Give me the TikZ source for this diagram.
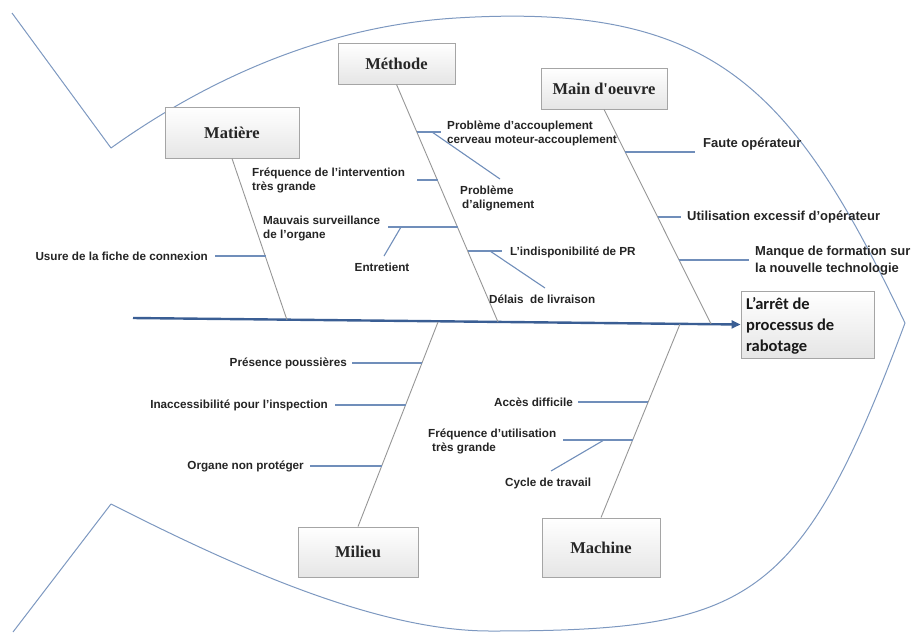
\documentclass[tikz,border=0pt]{standalone}
\usepackage{fontspec}
\setmainfont{Liberation Sans}
\newfontfamily\catfont{Liberation Serif}
\newfontfamily\efffont{Carlito}
\usetikzlibrary{shadows,arrows.meta}

\definecolor{fishline}{RGB}{125,152,192}
\definecolor{spineblue}{RGB}{58,94,148}
\definecolor{ribblue}{RGB}{112,142,186}
\definecolor{bonegray}{RGB}{150,150,150}
\definecolor{labeltext}{RGB}{36,36,36}
\definecolor{boxline}{RGB}{165,165,165}

\begin{document}
\begin{tikzpicture}[x=1pt,y=-1pt,
  catbox/.style={draw=boxline, line width=0.9pt, top color=white, bottom color=black!10,
    drop shadow={opacity=0.18, shadow xshift=1.2pt, shadow yshift=-1.2pt},
    font=\catfont\bfseries\fontsize{16.5}{18}\selectfont, text=black!85, inner sep=0pt},
  efftext/.style={font=\efffont\bfseries\fontsize{16.5}{21}\selectfont, text=black!90,
    inner sep=0pt, align=left},
  cause/.style={font=\bfseries\fontsize{11.7}{14}\selectfont, text=labeltext,
    inner sep=0pt, align=left},
  causebig/.style={cause, font=\bfseries\fontsize{13}{17}\selectfont},
  bone/.style={draw=bonegray, line width=0.9pt},
  rib/.style={draw=ribblue, line width=1.1pt},
  outline/.style={draw=fishline, line width=1pt},
  spine/.style={draw=spineblue, line width=2.4pt, -{Triangle[length=9pt,width=8pt]}}
]
\useasboundingbox (0,0) rectangle (912,633);

% fish body and tail
\draw[outline] (12,13) -- (111,148);
\draw[outline] (111,504) -- (13,632);
\draw[outline] (111,148) .. controls (209,78) and (326,26) .. (456,18)
  .. controls (716,2) and (793,89) .. (905,323);
\draw[outline] (905,323) .. controls (800,604) and (750,631) .. (490,631)
  .. controls (370,631) and (218,558) .. (111,504);

% category boxes and effect
\node[catbox, minimum width=134pt, minimum height=51pt] (mat) at (232,132.5) {Matière};
\node[catbox, minimum width=117pt, minimum height=41pt] (met) at (396.5,63.5) {Méthode};
\node[catbox, minimum width=126pt, minimum height=41pt] (mo) at (604,88.5) {Main d'oeuvre};
\node[catbox, minimum width=120pt, minimum height=50pt] (mil) at (358,552) {Milieu};
\node[catbox, minimum width=118pt, minimum height=59pt] (mac) at (601,547.5) {Machine};
\node[catbox, minimum width=133pt, minimum height=67pt] (eff) at (807.5,324.5) {};
\node[efftext, anchor=north west] (effT) at (746,297) {L’arrêt de\\processus de\\rabotage};

% spine
\coordinate (tailS) at (133,318);
\draw[spine] (tailS) -- (eff.west);

% main bones
\coordinate (matE) at (287,320);
\coordinate (metE) at (498,322);
\coordinate (moE) at (711,324);
\coordinate (milE) at (438,322);
\coordinate (macE) at (680,324);
\draw[bone] (mat.south) -- (matE);
\draw[bone] (met.south) -- (metE);
\draw[bone] (mo.south) -- (moE);
\draw[bone] (mil.north) -- (milE);
\draw[bone] (mac.north) -- (macE);

% Matière
\node[cause, anchor=east] (uLab) at (208,256) {Usure de la fiche de connexion};
\coordinate (uA) at (215,256); \coordinate (uB) at (266,256);
\draw[rib] (uA) -- (uB);

% Méthode
\node[cause, anchor=west] (fiLab) at (252,180) {Fréquence de l’intervention\\très grande};
\coordinate (fiA) at (417,180); \coordinate (fiB) at (437.7,180);
\draw[rib] (fiA) -- (fiB);

\node[cause, anchor=west] (msLab) at (263,228) {Mauvais surveillance\\de l’organe};
\coordinate (msA) at (388,227); \coordinate (msB) at (457.7,227);
\draw[rib] (msA) -- (msB);
\node[cause] (enLab) at (382,267) {Entretient};
\coordinate (enA) at (401,227); \coordinate (enB) at (384,256);
\draw[rib] (enA) -- (enB);

\node[cause, anchor=west] (paLab) at (447,133) {Problème d’accouplement\\cerveau moteur-accouplement};
\coordinate (paA) at (417.4,132); \coordinate (paB) at (441,132);
\draw[rib] (paA) -- (paB);
\node[cause, anchor=west] (alLab) at (460,198) {Problème\\\hspace{2pt}d’alignement};
\coordinate (alA) at (432,132); \coordinate (alB) at (500,179);
\draw[rib] (alA) -- (alB);

\node[cause, anchor=west] (ipLab) at (510,252) {L’indisponibilité de PR};
\coordinate (ipA) at (468,251); \coordinate (ipB) at (502,251);
\draw[rib] (ipA) -- (ipB);
\node[cause, anchor=west] (dlLab) at (489,299) {Délais\ \ de livraison};
\coordinate (dlA) at (490,251); \coordinate (dlB) at (545,288);
\draw[rib] (dlA) -- (dlB);

% Main d'oeuvre
\node[causebig, anchor=west] (foLab) at (703,144) {Faute opérateur};
\coordinate (foA) at (625.4,152); \coordinate (foB) at (695,152);
\draw[rib] (foA) -- (foB);
\node[causebig, anchor=west] (ueLab) at (687,217) {Utilisation excessif d'opérateur};
\coordinate (ueA) at (657.8,217); \coordinate (ueB) at (681,217);
\draw[rib] (ueA) -- (ueB);
\node[causebig, anchor=west] (mfLab) at (755,261) {Manque de formation sur\\la nouvelle technologie};
\coordinate (mfA) at (679.2,260); \coordinate (mfB) at (749,260);
\draw[rib] (mfA) -- (mfB);

% Milieu
\node[cause, anchor=east] (ppLab) at (347,363) {Présence poussières};
\coordinate (ppA) at (352,363); \coordinate (ppB) at (422,363);
\draw[rib] (ppA) -- (ppB);
\node[cause, anchor=east] (iiLab) at (328,405) {Inaccessibilité pour l'inspection};
\coordinate (iiA) at (335,405); \coordinate (iiB) at (405.6,405);
\draw[rib] (iiA) -- (iiB);
\node[cause, anchor=east] (onLab) at (304,466) {Organe non protéger};
\coordinate (onA) at (310,466); \coordinate (onB) at (381.8,466);
\draw[rib] (onA) -- (onB);

% Machine
\node[cause, anchor=east] (adLab) at (573,402) {Accès difficile};
\coordinate (adA) at (578,402); \coordinate (adB) at (648.2,402);
\draw[rib] (adA) -- (adB);
\node[cause, anchor=west] (fuLab) at (428,441) {Fréquence d’utilisation\\\hspace{4pt}très grande};
\coordinate (fuA) at (563,440); \coordinate (fuB) at (632.8,440);
\draw[rib] (fuA) -- (fuB);
\node[cause, anchor=west] (ctLab) at (505,483) {Cycle de travail};
\coordinate (ctA) at (604,440); \coordinate (ctB) at (551,471);
\draw[rib] (ctA) -- (ctB);
\end{tikzpicture}
\end{document}
